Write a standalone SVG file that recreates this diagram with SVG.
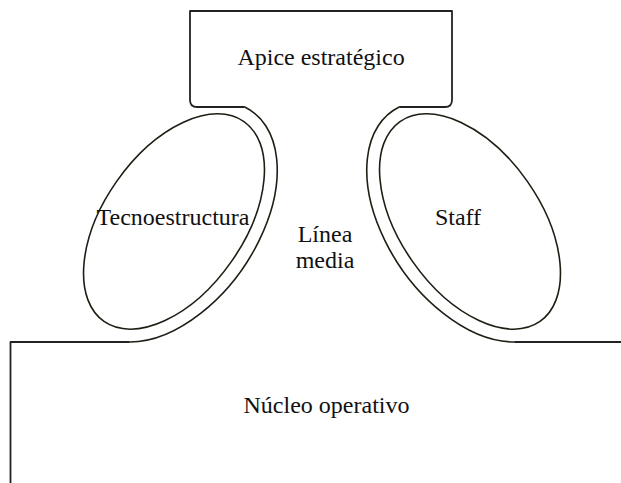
<svg xmlns="http://www.w3.org/2000/svg" width="621" height="483" viewBox="0 0 621 483">
  <style>
    .edge { fill: none; stroke: #222; stroke-width: 1.8; stroke-linejoin: round; }
    .oval { fill: none; stroke: #1e1e14; stroke-width: 1.6; }
    .lbl { font-size: 24px; fill: #111; text-anchor: middle; }
  </style>
  <rect width="621" height="483" fill="#fff"/>

  <g font-family="'Liberation Serif', 'Times New Roman', 'DejaVu Serif', serif">
    <!-- Strategic apex: open-bottomed box whose lower corners flow into the outer rings -->
    <g id="apice">
      <path class="edge" d="M 244.8,107 L 197,107 Q 190,107 190,100 L 190,11 L 452,11 L 452,100 Q 452,107 445,107 L 399.2,107"/>
      <text class="lbl" x="321" y="65">Apice estratégico</text>
    </g>

    <!-- Technostructure: tilted oval with an outer ring on its inner side -->
    <g id="tecnoestructura">
      <ellipse class="oval" cx="174" cy="221.5" rx="122" ry="70" transform="rotate(-55 174 221.5)"/>
      <path class="oval" d="M 244.8,107 A 135 83 -55 0 1 129.8,342"/>
      <text class="lbl" x="173" y="225">Tecnoestructura</text>
    </g>

    <!-- Support staff: mirror of the technostructure -->
    <g id="staff">
      <ellipse class="oval" cx="470" cy="221.5" rx="122" ry="70" transform="rotate(55 470 221.5)"/>
      <path class="oval" d="M 399.2,107 A 135 83 55 0 0 514.2,342"/>
      <text class="lbl" x="458" y="225">Staff</text>
    </g>

    <!-- Middle line -->
    <g id="linea-media">
      <text class="lbl" x="325" y="241.5">Línea</text>
      <text class="lbl" x="325" y="268">media</text>
    </g>

    <!-- Operating core: open box running off the bottom and right edges -->
    <g id="nucleo">
      <path class="edge" d="M 10.5,483 L 10.5,342 L 129.8,342 M 514.2,342 L 621,342"/>
      <text class="lbl" x="326.5" y="413">Núcleo operativo</text>
    </g>
  </g>

  <g id="connectors"></g>
</svg>
